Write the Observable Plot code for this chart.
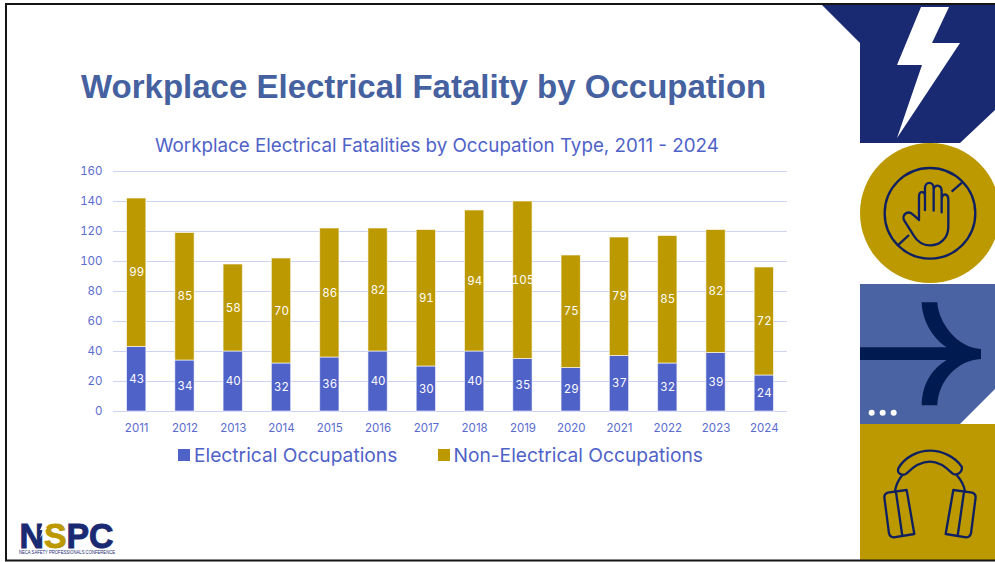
<!DOCTYPE html>
<html>
<head>
<meta charset="utf-8">
<script src="https://cdn.jsdelivr.net/npm/d3@7"></script>
<script src="https://cdn.jsdelivr.net/npm/@observablehq/plot@0.6"></script>
<style>
  html, body { margin: 0; padding: 0; background: #fff; }
  #slide { position: relative; width: 995px; height: 562px; overflow: hidden; background: #fff; }
  #slide > * { position: absolute; }
  #heading { left: 81px; top: 68px; margin: 0; font: bold 33px "Liberation Sans", sans-serif; color: #4661a0; white-space: nowrap; }
  #subtitle { left: 155px; top: 134px; font: 18.77px Inter, sans-serif; color: #4f62c8; white-space: nowrap; }
  #chart { left: 0; top: 160px; }
  .legend-item { top: 443px; font: 19.2px Inter, sans-serif; color: #4f62c8; white-space: nowrap; display: flex; align-items: center; gap: 4px; }
  .legend-item i { display: block; width: 12px; height: 12px; }
  #art { left: 0; top: 0; }
</style>
</head>
<body>
<div id="slide">
  <svg id="art" width="995" height="562" viewBox="0 0 995 562">
    <!-- lightning panel -->
    <polygon points="822,5 860,43 860,143 960,143 995,110 995,5" fill="#1a2a72"/>
    <polygon points="921,7 949,7 932,43 960,43 897,138 922,65 897,65" fill="#fff"/>
    <!-- stop-hand roundel -->
    <circle cx="930" cy="213" r="70" fill="#bd9900"/>
    <g transform="translate(815,0) scale(0.3333)" fill="none" stroke="#0f2060" stroke-width="7" stroke-linecap="round" stroke-linejoin="round">
      <circle cx="345" cy="640" r="136"/>
      <path d="M410 575L441 548M250 735L282 705" stroke-linecap="butt"/>
      <path d="M312 660V590C312 572 330 572 330 590V630M330 590V565C330 543 356 543 356 565V632M356 570C358 552 380 552 380 575V637M380 600C380 578 400 578 400 600V680C400 715 375 736 345 736C320 736 305 722 295 705L268 662C258 645 280 628 295 645L312 660"/>
    </g>
    <!-- arrow panel -->
    <polygon points="860,284 995,284 995,389 960,424 860,424" fill="#4a64a3"/>
    <g transform="translate(815,280) scale(0.3333)">
      <path d="M320 67H367C370 130 430 205 498 207V237C430 240 370 300 367 376H320C322 300 360 262 395 240H135V202H395C360 180 322 130 320 67Z" fill="#011a4f"/>
      <circle cx="170" cy="398" r="9" fill="#fff"/>
      <circle cx="203" cy="398" r="9" fill="#fff"/>
      <circle cx="236" cy="398" r="9" fill="#fff"/>
    </g>
    <!-- headphones panel -->
    <rect x="860" y="424" width="135" height="136" fill="#bd9900"/>
    <g transform="translate(815,280) scale(0.3333)" fill="none" stroke="#0f2060" stroke-width="7" stroke-linejoin="round">
      <path d="M250 565C270 530 310 512 345 512C380 512 420 530 440 560C445 575 425 590 412 580C390 558 370 545 345 545C315 545 295 560 275 580C262 590 245 580 250 565Z"/>
      <path d="M262 585C250 600 242 618 240 635M425 585C438 600 448 618 450 635"/>
      <path d="M275 630L298 762L236 772C228 772 224 768 222 760L208 652C208 645 212 640 218 638ZM243 636L262 768"/>
      <path d="M415 630L392 762L454 772C462 772 466 768 468 760L482 652C482 645 478 640 472 638ZM447 636L428 768"/>
    </g>
    <!-- conference logo -->
    <text x="19.5" y="548" font-family="Liberation Sans, sans-serif" font-weight="bold" font-size="35" textLength="94" lengthAdjust="spacingAndGlyphs" fill="#1a2a72" stroke="#1a2a72" stroke-width="1">N<tspan fill="#bd9900" stroke="#bd9900">S</tspan>PC</text>
    <polygon points="44,521 40,530 43,530 40,538 47,528 44,528 47,521" fill="#fff"/>
    <text x="19" y="554" font-family="Liberation Sans, sans-serif" font-size="5" textLength="96" lengthAdjust="spacingAndGlyphs" fill="#1a2a72">NECA SAFETY PROFESSIONALS CONFERENCE</text>
    <!-- slide frame -->
    <path d="M995 4H6V560.5H995" fill="none" stroke="#151515" stroke-width="2"/>
  </svg>
  <h1 id="heading">Workplace Electrical Fatality by Occupation</h1>
  <div id="subtitle">Workplace Electrical Fatalities by Occupation Type, 2011 - 2024</div>
  <div id="chart"></div>
  <div class="legend-item" style="left:178px"><i style="background:#4f62c8"></i><span>Electrical Occupations</span></div>
  <div class="legend-item" style="left:437.5px"><i style="background:#bd9900"></i><span>Non-Electrical Occupations</span></div>
</div>
<script>
// Annual workplace electrical fatalities, split by occupation type
const years = [2011, 2012, 2013, 2014, 2015, 2016, 2017, 2018, 2019, 2020, 2021, 2022, 2023, 2024];
const electrical = [43, 34, 40, 32, 36, 40, 30, 40, 35, 29, 37, 32, 39, 24];
const nonElectrical = [99, 85, 58, 70, 86, 82, 91, 94, 105, 75, 79, 85, 82, 72];
const seriesNames = ["Electrical Occupations", "Non-Electrical Occupations"];
const seriesColors = ["#4f62c8", "#bd9900"];
const yTicks = [0, 20, 40, 60, 80, 100, 120, 140, 160];

const rows = years.flatMap((year, i) => [
  {year, series: seriesNames[0], value: electrical[i]},
  {year, series: seriesNames[1], value: nonElectrical[i]}
]);

const stacking = {x: "year", y: "value", z: "series", order: seriesNames};

const plot = Plot.plot({
  width: 995,
  height: 280,
  marginTop: 11,
  marginBottom: 29,
  marginLeft: 113,
  marginRight: 208,
  style: {fontFamily: "Inter, sans-serif", fontSize: "11.5px", color: "#5a6bcf", background: "transparent"},
  x: {type: "band", domain: years, paddingInner: 0.6, paddingOuter: 0.28, round: false, label: null},
  y: {domain: [0, 160], label: null},
  color: {domain: seriesNames, range: seriesColors},
  marks: [
    Plot.ruleY(yTicks, {stroke: "#cdd3f3", strokeWidth: 1}),
    Plot.barY(rows, Plot.stackY({...stacking, fill: "series", stroke: "#fff", strokeOpacity: 0.6, strokeWidth: 1})),
    Plot.text(rows, Plot.stackY({...stacking, text: "value", fill: "#fff", fontSize: 11.5})),
    Plot.axisY({ticks: yTicks, tickSize: 0, tickPadding: 11, label: null}),
    Plot.axisX({tickSize: 0, tickPadding: 12, label: null, tickFormat: d => String(d)})
  ]
});
document.getElementById("chart").append(plot);
</script>
</body>
</html>
